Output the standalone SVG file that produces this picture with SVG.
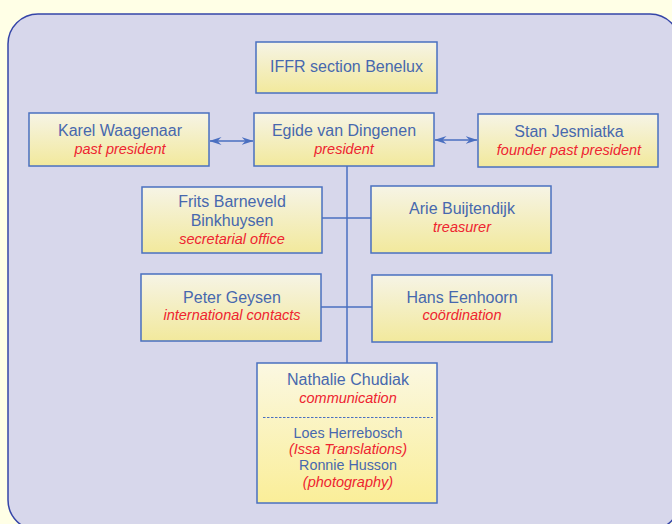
<svg xmlns="http://www.w3.org/2000/svg" width="672" height="524" viewBox="0 0 672 524">
<defs>
<linearGradient id="boxGrad" x1="0" y1="0" x2="0" y2="1">
<stop offset="0" stop-color="#F6F4E6"/>
<stop offset="1" stop-color="#F2E99C"/>
</linearGradient>
<linearGradient id="boxGrad2" x1="0" y1="0" x2="0" y2="1">
<stop offset="0" stop-color="#FBF8E2"/>
<stop offset="1" stop-color="#FAEE98"/>
</linearGradient>
<marker id="ah" viewBox="0 0 12 8" refX="11.5" refY="4" markerWidth="12" markerHeight="8" markerUnits="userSpaceOnUse" orient="auto-start-reverse">
<path d="M0,0 L12,4 L0,8 L4,4 Z" fill="#4A6FC0"/>
</marker>
</defs>
<style>
.box{fill:url(#boxGrad);stroke:#4A70C0;stroke-width:1.5}
.name{font-family:"Liberation Sans",Arial,sans-serif;font-size:16px;fill:#4768AE;text-anchor:middle}
.role{font-family:"Liberation Sans",Arial,sans-serif;font-size:14.5px;font-style:italic;fill:#EE2430;text-anchor:middle}
.sub{font-family:"Liberation Sans",Arial,sans-serif;font-size:14.3px;fill:#4768AE;text-anchor:middle}
.conn{stroke:#4A6FC0;stroke-width:1.5;fill:none}
</style>
<rect x="0" y="0" width="672" height="524" fill="#FFFFE6"/>
<rect x="8" y="14" width="672" height="516" rx="30" ry="30" fill="#D7D7EB" stroke="#3545A8" stroke-width="1.5"/>
<g id="connectors">
<line class="conn" x1="347" y1="166" x2="347" y2="363"/>
<line class="conn" x1="322" y1="218" x2="371" y2="218"/>
<line class="conn" x1="321" y1="307" x2="372" y2="307"/>
<line class="conn" x1="210" y1="141" x2="253" y2="141" marker-start="url(#ah)" marker-end="url(#ah)"/>
<line class="conn" x1="435" y1="140" x2="477" y2="140" marker-start="url(#ah)" marker-end="url(#ah)"/>
</g>
<g id="iffr">
<rect class="box" x="256" y="42" width="181" height="51"/>
<text class="name" x="346.5" y="72">IFFR section Benelux</text>
</g>
<g id="karel">
<rect class="box" x="29" y="113" width="180" height="53"/>
<text class="name" x="120" y="136">Karel Waagenaar</text>
<text class="role" x="120" y="154">past president</text>
</g>
<g id="egide">
<rect class="box" x="254" y="113" width="180" height="53"/>
<text class="name" x="344" y="136">Egide van Dingenen</text>
<text class="role" x="344" y="154">president</text>
</g>
<g id="stan">
<rect class="box" x="478" y="114" width="180" height="53"/>
<text class="name" x="569" y="137">Stan Jesmiatka</text>
<text class="role" x="569" y="155">founder past president</text>
</g>
<g id="frits">
<rect class="box" x="142" y="187" width="180" height="66"/>
<text class="name" x="232" y="207">Frits Barneveld</text>
<text class="name" x="232" y="226">Binkhuysen</text>
<text class="role" x="232" y="244">secretarial office</text>
</g>
<g id="arie">
<rect class="box" x="371" y="186" width="180" height="67"/>
<text class="name" x="462" y="214">Arie Buijtendijk</text>
<text class="role" x="462" y="232">treasurer</text>
</g>
<g id="peter">
<rect class="box" x="141" y="274" width="180" height="67"/>
<text class="name" x="232" y="303">Peter Geysen</text>
<text class="role" x="232" y="320">international contacts</text>
</g>
<g id="hans">
<rect class="box" x="372" y="275" width="180" height="67"/>
<text class="name" x="462" y="303">Hans Eenhoorn</text>
<text class="role" x="462" y="320">coördination</text>
</g>
<g id="nathalie">
<rect x="257" y="363" width="180" height="140" fill="url(#boxGrad2)" stroke="#4A70C0" stroke-width="1.5"/>
<text class="name" x="348" y="385">Nathalie Chudiak</text>
<text class="role" x="348" y="403">communication</text>
<line x1="263" y1="417.5" x2="433" y2="417.5" stroke="#4A6FC0" stroke-width="1" stroke-dasharray="2.5,1.5"/>
<text class="sub" x="348" y="438">Loes Herrebosch</text>
<text class="role" x="348" y="454">(Issa Translations)</text>
<text class="sub" x="348" y="470">Ronnie Husson</text>
<text class="role" x="348" y="487">(photography)</text>
</g>
</svg>
